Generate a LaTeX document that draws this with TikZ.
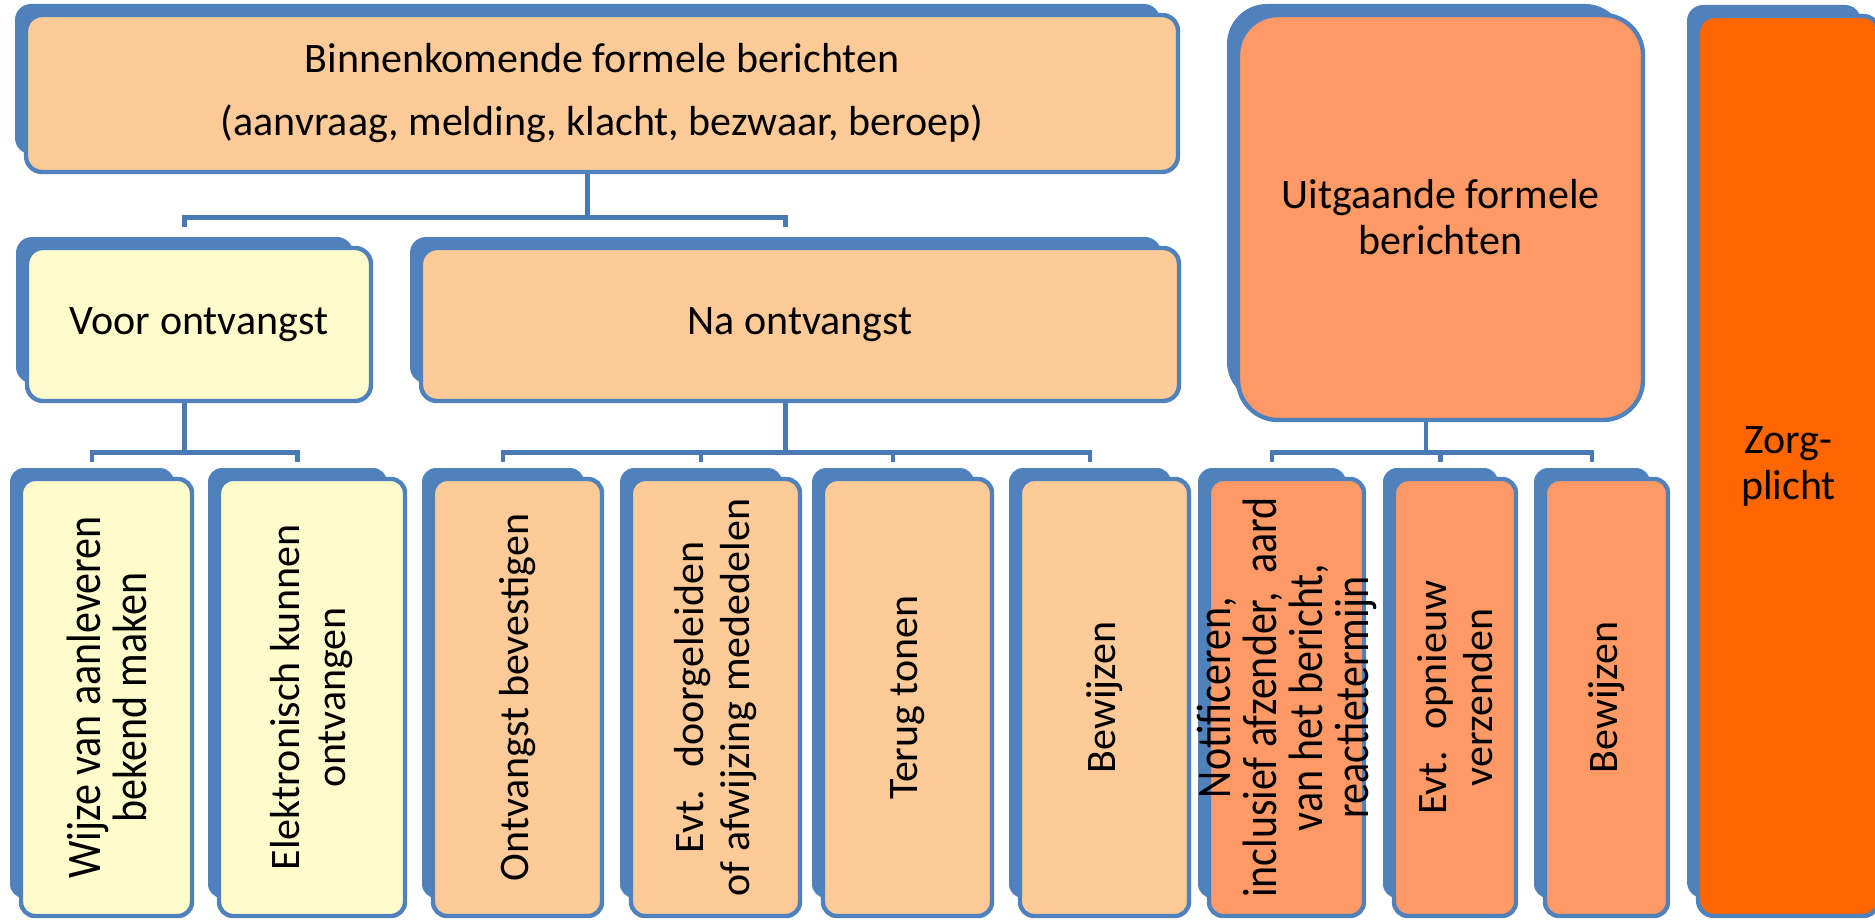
\documentclass[tikz,border=0pt]{standalone}
\usepackage{fontspec}
\setmainfont{Carlito}
\definecolor{accent}{RGB}{79,129,189}
\definecolor{lijnblauw}{RGB}{74,122,182}
\definecolor{lichtoranje}{RGB}{253,202,152}
\definecolor{lichtgeel}{RGB}{255,252,204}
\definecolor{zalm}{RGB}{255,153,102}
\definecolor{fel}{RGB}{255,102,0}
\tikzset{
  schaduw/.style={fill=accent, draw=none, inner sep=0pt},
  blok/.style={draw=accent, line width=2.2pt, inner sep=0pt, align=center,
    font=\fontsize{21pt}{23pt}\selectfont},
  tekst/.style={inner sep=0pt, align=center, font=\fontsize{21pt}{23pt}\selectfont},
  rek/.style={yscale=1.15, font=\fontsize{21pt}{20pt}\selectfont},
  lijn/.style={draw=lijnblauw, line width=2.4pt},
}
% blok met schaduw: naam, x1, y1, x2, y2 (px), kleur, straal, tekst
\newcommand{\blok}[8]{%
  \node[schaduw, rounded corners=#7, minimum width={(#4-#2-7)*0.5pt},
    minimum height={(#5-#3-7)*0.5pt}] (#1-s) at ({(#2+#4)/2-14.5},{(#3+#5)/2-14.5}) {};
  \node[blok, fill=#6, rounded corners=#7, minimum width={(#4-#2)*0.5pt},
    minimum height={(#5-#3)*0.5pt}] (#1) at ({(#2+#4)/2},{(#3+#5)/2}) {#8};
}
% staand blok: tekst gedraaid, #9 extra tekststijl
\newcommand{\vblok}[9]{%
  \blok{#1}{#2}{#3}{#4}{#5}{#6}{#7}{}
  \node[tekst, rotate=90, #9] (#1-t) at (#1) {#8};
}
\begin{document}
\begin{tikzpicture}[x=0.5pt, y=-0.5pt]
  %Kader.
  \useasboundingbox (0,0) rectangle (1875,920);
  \clip (0,0) rectangle (1875,920);
  %Bovenste rij.
  \blok{binnen}{26}{15}{1178}{172}{lichtoranje}{8pt}{Binnenkomende formele berichten\\[8.5pt](aanvraag, melding, klacht, bezwaar, beroep)}
  \blok{voor}{27}{248}{371}{401}{lichtgeel}{8pt}{Voor ontvangst}
  \blok{na}{421}{248}{1179}{401}{lichtoranje}{8pt}{Na ontvangst}
  \blok{uit}{1238}{15}{1643}{420}{zalm}{20pt}{Uitgaande formele\\berichten}
  \blok{zorg}{1698}{16}{1879}{916}{fel}{8pt}{Zorg-\\plicht}
  %Onderste rij.
  \vblok{wijze}{21}{479}{192}{916}{lichtgeel}{7pt}{Wijze van aanleveren\\bekend maken}{rek}
  \vblok{elek}{219}{479}{405}{916}{lichtgeel}{7pt}{Elektronisch kunnen\\ontvangen}{}
  \vblok{ontv}{433}{479}{602}{916}{lichtoranje}{7pt}{Ontvangst bevestigen}{}
  \vblok{door}{631}{479}{800}{916}{lichtoranje}{7pt}{Evt.~ doorgeleiden\\of afwijzing mededelen}{}
  \vblok{terug}{823}{479}{992}{916}{lichtoranje}{7pt}{Terug tonen}{}
  \vblok{bewin}{1020}{479}{1189}{916}{lichtoranje}{7pt}{Bewijzen}{}
  \vblok{noti}{1209}{479}{1364}{916}{zalm}{7pt}{Notificeren,\\inclusief afzender,~ aard\\van het bericht,\\reactietermijn}{rek}
  \vblok{opn}{1394}{479}{1516}{916}{zalm}{7pt}{Evt.~ opnieuw\\verzenden}{}
  \vblok{bewuit}{1545}{479}{1668}{916}{zalm}{7pt}{Bewijzen}{}
  %Verbindingen.
  \draw[lijn] ([yshift=5pt]voor-s.north) -- ++(0,-9) coordinate (balk1) -| ([yshift=5pt]na-s.north);
  \draw[lijn] (binnen-s.south |- binnen.south) -- (binnen-s.south |- balk1);
  \draw[lijn] ([yshift=3pt]wijze-s.north) -- ++(0,-9) coordinate (balk2) -| ([yshift=3pt]elek-s.north);
  \draw[lijn] (voor-s.south |- voor.south) -- (voor-s.south |- balk2);
  \draw[lijn] ([yshift=3pt]ontv-s.north) -- ++(0,-9) coordinate (balk3) -| ([yshift=3pt]bewin-s.north);
  \foreach \k in {door,terug}
    \draw[lijn] ([yshift=3pt]\k-s.north) -- (\k-s.north |- balk3);
  \draw[lijn] (na-s.south |- na.south) -- (na-s.south |- balk3);
  \draw[lijn] ([yshift=3pt]noti-s.north) -- ++(0,-9) coordinate (balk4) -| ([yshift=3pt]bewuit-s.north);
  \draw[lijn] ([yshift=3pt]opn-s.north) -- (opn-s.north |- balk4);
  \draw[lijn] (uit-s.south |- uit.south) -- (uit-s.south |- balk4);
\end{tikzpicture}
\end{document}
